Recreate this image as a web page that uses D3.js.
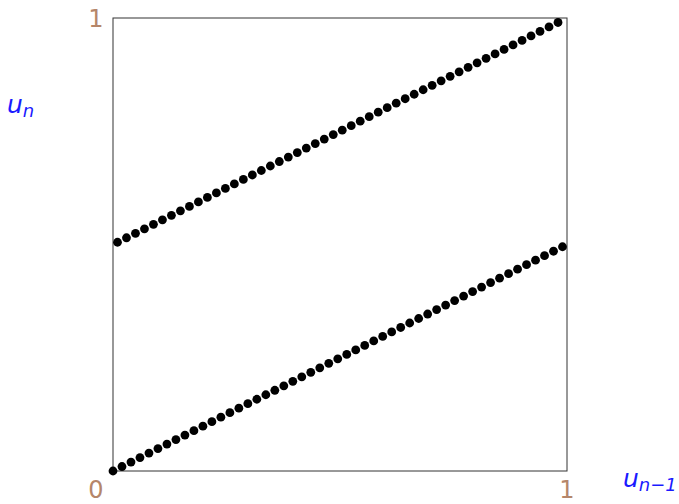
<!DOCTYPE html>
<html>
<head>
<meta charset="utf-8">
<script src="https://cdn.jsdelivr.net/npm/d3@7/dist/d3.min.js"></script>
<style>
  html, body { margin: 0; padding: 0; background: #fff; }
  svg { display: block; }
</style>
</head>
<body>
<svg id="chart" width="679" height="504"></svg>
<script>
// Generator modulus: each state is an integer in [0, M), plotted as u = k / M
const M = 101;

// Successive states: uPrev[i] -> uNext[i]
const uPrev = [
  0, 1, 2, 3, 4, 5, 6, 7, 8, 9, 10, 11, 12, 13, 14, 15, 16, 17, 18, 19,
  20, 21, 22, 23, 24, 25, 26, 27, 28, 29, 30, 31, 32, 33, 34, 35, 36, 37, 38, 39,
  40, 41, 42, 43, 44, 45, 46, 47, 48, 49, 50, 51, 52, 53, 54, 55, 56, 57, 58, 59,
  60, 61, 62, 63, 64, 65, 66, 67, 68, 69, 70, 71, 72, 73, 74, 75, 76, 77, 78, 79,
  80, 81, 82, 83, 84, 85, 86, 87, 88, 89, 90, 91, 92, 93, 94, 95, 96, 97, 98, 99,
  100
];
const uNext = [
  0, 51, 1, 52, 2, 53, 3, 54, 4, 55, 5, 56, 6, 57, 7, 58, 8, 59, 9, 60,
  10, 61, 11, 62, 12, 63, 13, 64, 14, 65, 15, 66, 16, 67, 17, 68, 18, 69, 19, 70,
  20, 71, 21, 72, 22, 73, 23, 74, 24, 75, 25, 76, 26, 77, 27, 78, 28, 79, 29, 80,
  30, 81, 31, 82, 32, 83, 33, 84, 34, 85, 35, 86, 36, 87, 37, 88, 38, 89, 39, 90,
  40, 91, 41, 92, 42, 93, 43, 94, 44, 95, 45, 96, 46, 97, 47, 98, 48, 99, 49, 100,
  50
];

const xTicks = [0, 1];
const yTicks = [1];

const svg = d3.select("#chart");
const plotLeft = 113, plotRight = 567, plotTop = 18, plotBottom = 471;

const x = d3.scaleLinear().domain([0, 1]).range([plotLeft, plotRight]);
const y = d3.scaleLinear().domain([0, 1]).range([plotBottom, plotTop]);

const points = uPrev.map((k, i) => ({ a: k / M, b: uNext[i] / M }));

// Frame
svg.append("rect")
  .attr("x", x(0)).attr("y", y(1))
  .attr("width", x(1) - x(0)).attr("height", y(0) - y(1))
  .attr("fill", "none").attr("stroke", "#333").attr("stroke-width", 1);

// Scatter of consecutive pairs
svg.append("g").selectAll("circle")
  .data(points)
  .join("circle")
  .attr("cx", d => x(d.a))
  .attr("cy", d => y(d.b))
  .attr("r", 4.4)
  .attr("fill", "#000");

const tickColor = "#b5866a";
const font = "'DejaVu Sans', sans-serif";

// Horizontal tick labels
svg.append("g").selectAll("text")
  .data(xTicks)
  .join("text")
  .attr("x", d => d === 0 ? x(d) - 17 : x(d))
  .attr("y", 498)
  .attr("text-anchor", "middle")
  .attr("font-family", font).attr("font-size", 24)
  .attr("fill", tickColor)
  .text(d => d);

// Vertical tick labels
svg.append("g").selectAll("text")
  .data(yTicks)
  .join("text")
  .attr("x", x(0) - 17)
  .attr("y", d => y(d) + 9)
  .attr("text-anchor", "middle")
  .attr("font-family", font).attr("font-size", 24)
  .attr("fill", tickColor)
  .text(d => d);

// Axis names
const blue = "#1a1aff";
const yName = svg.append("text")
  .attr("x", 7).attr("y", 113)
  .attr("font-family", font).attr("font-style", "italic")
  .attr("font-size", 25).attr("fill", blue);
yName.append("tspan").text("u");
yName.append("tspan").attr("dy", 4).attr("font-size", 18).text("n");

const xName = svg.append("text")
  .attr("x", 623).attr("y", 487)
  .attr("font-family", font).attr("font-style", "italic")
  .attr("font-size", 25).attr("fill", blue);
xName.append("tspan").text("u");
xName.append("tspan").attr("dy", 4).attr("font-size", 18).text("n\u22121");
</script>
</body>
</html>
